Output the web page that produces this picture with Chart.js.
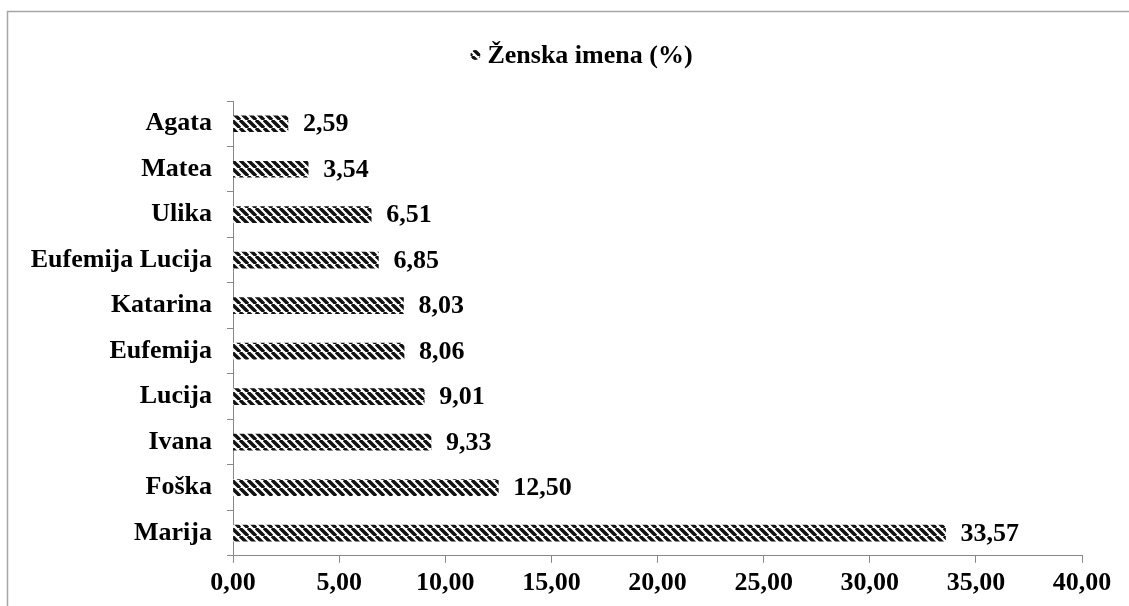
<!DOCTYPE html>
<html>
<head>
<meta charset="utf-8">
<script src="https://cdn.jsdelivr.net/npm/chart.js@4"></script>
<style>
  html, body { margin: 0; padding: 0; background: #fff; }
  #wrap { width: 1129px; height: 606px; }
</style>
</head>
<body>
<div id="wrap"><canvas id="chart" width="1129" height="606"></canvas></div>
<script>
// ---- DATA ----
const names = ["Agata", "Matea", "Ulika", "Eufemija Lucija", "Katarina", "Eufemija", "Lucija", "Ivana", "Foška", "Marija"];
const percents = [2.59, 3.54, 6.51, 6.85, 8.03, 8.06, 9.01, 9.33, 12.5, 33.57];
const seriesLabel = "Ženska imena (%)";
const axisMin = 0;
const axisMax = 40;
const axisStep = 5;

const FONT = "'Liberation Serif', 'Times New Roman', serif";
const FS = 26;

// ---- PATTERN (diagonal stripes) ----
function makeStripes() {
  const c = document.createElement("canvas");
  c.width = 8;
  c.height = 8;
  const p = c.getContext("2d");
  p.fillStyle = "#fff";
  p.fillRect(0, 0, 8, 8);
  p.strokeStyle = "#111";
  p.lineWidth = 3.4;
  p.beginPath();
  for (let k = -8; k <= 16; k += 8) {
    p.moveTo(k, 0);
    p.lineTo(k + 8, 8);
  }
  p.stroke();
  return p.createPattern(c, "repeat");
}
const stripes = makeStripes();

const fmt = (v) => v.toFixed(2).replace(".", ",");

// ---- PLUGINS ----
const framePlugin = {
  id: "frame",
  beforeDraw(chart) {
    const c = chart.ctx;
    c.save();
    c.strokeStyle = "#a6a6a6";
    c.lineWidth = 1.5;
    c.beginPath();
    c.moveTo(7.5, chart.height + 2);
    c.lineTo(7.5, 11.5);
    c.lineTo(chart.width + 2, 11.5);
    c.stroke();
    c.restore();
  },
};

// titulek s ikonou serije (kao legenda u Excelu)
const titleLegend = {
  id: "titleLegend",
  afterDraw(chart) {
    const c = chart.ctx;
    c.save();
    c.font = "bold " + FS + "px " + FONT;
    const w = c.measureText(seriesLabel).width;
    const cx = 590;
    const x0 = cx - w / 2;
    const y = 55;
    c.beginPath();
    c.arc(x0 - 12, y, 5, 0, Math.PI * 2);
    c.fillStyle = stripes;
    c.fill();
    c.fillStyle = "#000";
    c.textBaseline = "middle";
    c.textAlign = "left";
    c.fillText(seriesLabel, x0, y + 1);
    c.restore();
  },
};

const valueLabels = {
  id: "valueLabels",
  afterDatasetsDraw(chart) {
    const c = chart.ctx;
    const meta = chart.getDatasetMeta(0);
    c.save();
    c.font = "bold " + FS + "px " + FONT;
    c.fillStyle = "#000";
    c.textBaseline = "middle";
    c.textAlign = "left";
    meta.data.forEach((bar, i) => {
      c.fillText(fmt(percents[i]), bar.x + 15, bar.y + 1);
    });
    c.restore();
  },
};

// ---- CHART ----
const ctx = document.getElementById("chart").getContext("2d");
new Chart(ctx, {
  type: "bar",
  data: {
    labels: names,
    datasets: [
      {
        label: seriesLabel,
        data: percents,
        backgroundColor: stripes,
        borderWidth: 0,
        barThickness: 16,
      },
    ],
  },
  options: {
    indexAxis: "y",
    responsive: false,
    animation: false,
    layout: { padding: { top: 101, right: 47, left: 10, bottom: 2 } },
    plugins: {
      legend: { display: false },
      tooltip: { enabled: false },
    },
    scales: {
      x: {
        min: axisMin,
        max: axisMax,
        border: { color: "#888", width: 1 },
        grid: { display: true, drawOnChartArea: false, color: "#888", tickLength: 7 },
        ticks: {
          stepSize: axisStep,
          color: "#000",
          padding: 5,
          font: { family: FONT, size: FS, weight: "bold" },
          callback: (v) => fmt(v),
        },
      },
      y: {
        afterFit: (s) => { s.width = 223; },
        border: { color: "#888", width: 1 },
        grid: { offset: true, drawOnChartArea: false, color: "#888", tickLength: 6 },
        ticks: {
          color: "#000",
          padding: 15,
          font: { family: FONT, size: FS, weight: "bold" },
        },
      },
    },
  },
  plugins: [framePlugin, titleLegend, valueLabels],
});
</script>
</body>
</html>
